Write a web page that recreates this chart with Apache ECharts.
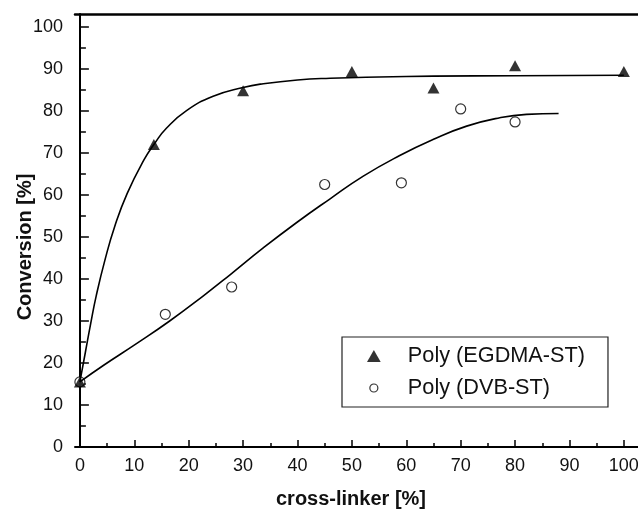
<!DOCTYPE html>
<html>
<head>
<meta charset="utf-8">
<script src="https://cdn.jsdelivr.net/npm/echarts@6/dist/echarts.min.js"></script>
<style>
  html, body { margin: 0; padding: 0; background: #fff; }
  #chart { width: 638px; height: 511px; }
</style>
</head>
<body>
<div id="chart"></div>
<script>
// tick positions
const xTicks = [0, 10, 20, 30, 40, 50, 60, 70, 80, 90, 100];
const xMinorTicks = [5, 15, 25, 35, 45, 55, 65, 75, 85, 95];
const yTicks = [0, 10, 20, 30, 40, 50, 60, 70, 80, 90, 100];
const yMinorTicks = [5, 15, 25, 35, 45, 55, 65, 75, 85, 95];

// measured points [cross-linker %, conversion %]
const egdmaPoints = [[0, 15.5], [13.6, 72], [30, 84.8], [50, 89.4], [65, 85.5], [80, 90.8], [100, 89.4]];
const dvbPoints = [[0, 15.5], [15.7, 31.6], [27.9, 38.1], [45, 62.5], [59.1, 62.9], [70, 80.5], [80, 77.4]];

// fitted curves
const egdmaFit = [[0, 15.5], [1, 22.5], [2, 29.5], [3, 36], [4.6, 44.5], [6.4, 52.5], [8.7, 60.4],
  [11.8, 68.4], [13.8, 72.4], [15.9, 75.9], [19.6, 80.1], [24.5, 83.5], [30, 85.6], [33.7, 86.5],
  [40, 87.4], [46, 87.8], [55, 88.1], [65, 88.3], [80, 88.4], [100, 88.5]];
const dvbFit = [[0, 15.5], [4.3, 19.4], [10.4, 24.6], [16.5, 30], [22.7, 36], [27.6, 41],
  [33.7, 47.4], [39.8, 53.4], [46, 59.1], [52.1, 64.5], [58.8, 69.4], [64.9, 73.2], [71.1, 76.4],
  [77.2, 78.4], [82.1, 79.2], [88, 79.4]];

const FONT = 'Liberation Sans, Arial, sans-serif';
const X_MIN = -0.9, X_MAX = 102.6, Y_MIN = 0, Y_MAX = 103.1;

const chart = echarts.init(document.getElementById('chart'));

const baseX = { type: 'value', min: X_MIN, max: X_MAX, splitLine: { show: false } };
const baseY = { type: 'value', min: Y_MIN, max: Y_MAX, splitLine: { show: false } };

chart.setOption({
  animation: false,
  grid: { left: 75, top: 14, right: 0, bottom: 64, outerBoundsMode: 'none' },
  xAxis: [
    {
      ...baseX,
      position: 'bottom',
      axisLine: { lineStyle: { color: '#000', width: 2 } },
      axisTick: { inside: true, length: 7, lineStyle: { color: '#000', width: 1.5 }, customValues: xTicks },
      axisLabel: { customValues: xTicks, fontSize: 18, color: '#111', fontFamily: FONT, margin: 10 },
      name: 'cross-linker [%]',
      nameLocation: 'middle',
      nameGap: 42,
      nameMoveOverlap: false,
      nameTextStyle: { fontSize: 20, fontWeight: 'bold', color: '#111', fontFamily: FONT, padding: [0, 11, 0, 0] }
    },
    {
      ...baseX,
      position: 'bottom',
      axisLine: { show: false },
      axisTick: { inside: true, length: 4, lineStyle: { color: '#000', width: 1.5 }, customValues: xMinorTicks },
      axisLabel: { show: false }
    },
    {
      ...baseX,
      position: 'top',
      axisLine: { lineStyle: { color: '#000', width: 2.5 } },
      axisTick: { show: false },
      axisLabel: { show: false }
    }
  ],
  yAxis: [
    {
      ...baseY,
      position: 'left',
      axisLine: { lineStyle: { color: '#000', width: 2 } },
      axisTick: { inside: true, length: 9, lineStyle: { color: '#000', width: 1.5 }, customValues: yTicks },
      axisLabel: { customValues: yTicks, fontSize: 18, color: '#111', fontFamily: FONT, margin: 12 },
      name: 'Conversion [%]',
      nameLocation: 'middle',
      nameGap: 40,
      nameRotate: 90,
      nameMoveOverlap: false,
      nameTextStyle: { fontSize: 20, fontWeight: 'bold', color: '#111', fontFamily: FONT, padding: [0, 33, 0, 0] }
    },
    {
      ...baseY,
      position: 'left',
      axisLine: { show: false },
      axisTick: { inside: true, length: 6, lineStyle: { color: '#000', width: 1.5 }, customValues: yMinorTicks },
      axisLabel: { show: false }
    }
  ],
  legend: {
    orient: 'vertical',
    left: 342,
    top: 337,
    padding: [8, 23, 8, 25],
    itemGap: 10,
    itemWidth: 58,
    itemHeight: 12,
    selectedMode: false,
    borderColor: '#222',
    borderWidth: 1.2,
    textStyle: { fontSize: 21.7, color: '#111', fontFamily: FONT },
    data: [
      {
        name: 'Poly (EGDMA-ST)',
        icon: 'path://M0,0 L6,-10.5 L12,0 Z',
        itemStyle: { color: '#000', borderWidth: 0 }
      },
      {
        name: 'Poly (DVB-ST)',
        icon: 'path://M0,-6 M0,6 M4,0 A4,4 0 1 1 -4,0 A4,4 0 1 1 4,0 Z',
        itemStyle: { color: '#fff', borderColor: '#000', borderWidth: 1.2 }
      }
    ]
  },
  series: [
    {
      type: 'line',
      data: egdmaFit,
      smooth: 0.5,
      showSymbol: false,
      silent: true,
      lineStyle: { color: '#000', width: 1.6 }
    },
    {
      type: 'line',
      data: dvbFit,
      smooth: 0.5,
      showSymbol: false,
      silent: true,
      lineStyle: { color: '#000', width: 1.6 }
    },
    {
      name: 'Poly (DVB-ST)',
      type: 'scatter',
      data: dvbPoints,
      symbol: 'circle',
      symbolSize: 10,
      itemStyle: { color: '#fff', borderColor: '#000', borderWidth: 1.2 }
    },
    {
      name: 'Poly (EGDMA-ST)',
      type: 'scatter',
      data: egdmaPoints,
      symbol: 'triangle',
      symbolSize: [12, 11],
      itemStyle: { color: '#000' }
    }
  ]
});
</script>
</body>
</html>
